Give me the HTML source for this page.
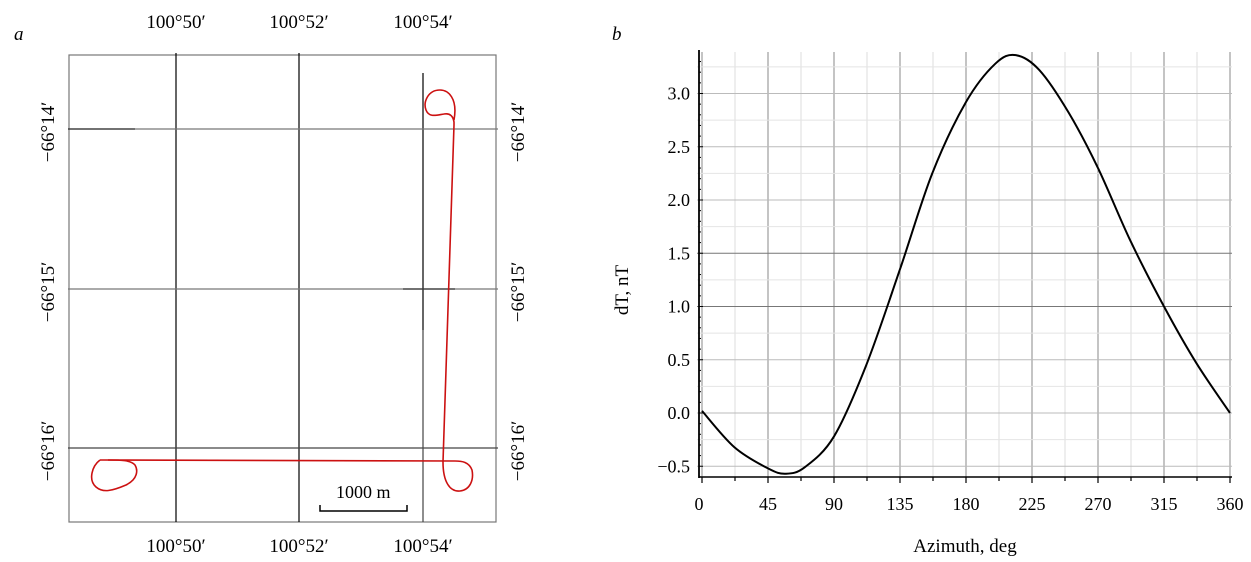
<!DOCTYPE html>
<html><head><meta charset="utf-8"><style>
html,body{margin:0;padding:0;background:#fff;}
svg{display:block;font-family:"Liberation Serif",serif;}
</style></head><body>
<svg id="s" width="1251" height="562" viewBox="0 0 1251 562" xmlns="http://www.w3.org/2000/svg">
<text x="14" y="40" font-size="19" font-style="italic">a</text>
<rect x="69" y="55" width="427" height="467" fill="none" stroke="#777" stroke-width="1.2"/>
<g stroke="#000" stroke-width="1.2">
<line x1="176" y1="53" x2="176" y2="522"/>
<line x1="299" y1="53" x2="299" y2="522"/>
<line x1="423" y1="73" x2="423" y2="330"/>
<line x1="423" y1="330" x2="423" y2="522" stroke="#444"/>
</g>
<g stroke="#777" stroke-width="1.2">
<line x1="68" y1="129" x2="498" y2="129"/>
<line x1="68" y1="289" x2="498" y2="289"/>
<line x1="68" y1="448" x2="498" y2="448" stroke="#444"/>
</g>
<g stroke="#333" stroke-width="1.2">
<line x1="68" y1="129" x2="135" y2="129"/>
<line x1="403" y1="289" x2="455" y2="289"/>
</g>
<g fill="none" stroke="#cc1111" stroke-width="1.6">
<path d="M454,120 C458,98 448,90 440,90 C428,90 423,102 426,110 C429,118 437,115 444,114 C450,113 453,116 454,122 L454,125 L443,462"/>
<path d="M443,462 C443,482 450,492 460,491 C470,490 474,480 472,470 C469,462 462,461 455,461 L100,460"/>
<path d="M100,460 C92,466 88,480 96,487 C103,493 112,491 126,485 C138,479 138,470 135,465 C131,460 120,460 108,460"/>
</g>
<text x="336" y="498" font-size="18">1000 m</text>
<path d="M320,505 L320,511 L407,511 L407,505" fill="none" stroke="#000" stroke-width="1.5"/>
<g font-size="19" text-anchor="middle">
<text x="176" y="28">100°50′</text>
<text x="299" y="28">100°52′</text>
<text x="423" y="28">100°54′</text>
<text x="176" y="552">100°50′</text>
<text x="299" y="552">100°52′</text>
<text x="423" y="552">100°54′</text>
<text transform="translate(54,132) rotate(-90)">−66°14′</text>
<text transform="translate(54,292) rotate(-90)">−66°15′</text>
<text transform="translate(54,451) rotate(-90)">−66°16′</text>
<text transform="translate(524,132) rotate(-90)">−66°14′</text>
<text transform="translate(524,292) rotate(-90)">−66°15′</text>
<text transform="translate(524,451) rotate(-90)">−66°16′</text>
</g>
<text x="612" y="40" font-size="19" font-style="italic">b</text>
<g id="grid"></g>
<g id="lbl" font-size="18"></g>
<text transform="translate(628,290) rotate(-90)" font-size="19" text-anchor="middle">dT, nT</text>
<text x="965" y="552" font-size="19" text-anchor="middle">Azimuth, deg</text>
<path id="curve" fill="none" stroke="#000" stroke-width="2"/>
</svg>
<script>
var NS="http://www.w3.org/2000/svg";
function X(a){return 702+a*(528/360);}
function Y(v){return 413-106.5*v;}
var g=document.getElementById('grid'),l=document.getElementById('lbl');
function ln(x1,y1,x2,y2,c,w){var e=document.createElementNS(NS,'line');e.setAttribute('x1',x1);e.setAttribute('y1',y1);e.setAttribute('x2',x2);e.setAttribute('y2',y2);e.setAttribute('stroke',c);e.setAttribute('stroke-width',w);g.appendChild(e);}
function tx(x,y,s,a){var e=document.createElementNS(NS,'text');e.setAttribute('x',x);e.setAttribute('y',y);e.setAttribute('text-anchor',a);e.textContent=s;l.appendChild(e);}
var yTop=52,yBot=477;
for(var a=0;a<=360;a+=22.5){var strong=(a%45===0);ln(X(a),yTop,X(a),yBot,strong?'#888':'#ddd',1);}
for(var v=-0.5;v<=3.3;v+=0.25){var y=Y(v);var strong=Math.abs(v*2-Math.round(v*2))<1e-6;ln(697,y,1232,y,strong?(Math.abs(v-1)<0.01||Math.abs(v-1.5)<0.01?'#777':'#bbb'):'#e4e4e4',1);}
ln(699,yTop-2,699,yBot+1,'#000',1.8);
ln(699,yBot,1232,yBot,'#000',1.5);
for(var a=0;a<=360;a+=22.5){ln(X(a),yBot,X(a),yBot+(a%45===0?6:4),'#000',1.2);}
for(var v=-0.6;v<=3.35;v+=0.1){ln(699,Y(v),(Math.abs(v*2-Math.round(v*2))<1e-6)?703:701,Y(v),'#000',1);}
var labs=['−0.5','0.0','0.5','1.0','1.5','2.0','2.5','3.0'];
for(var i=0;i<8;i++){tx(690,Y(-0.5+i*0.5)+6,labs[i],'end');}
for(var a=0;a<=360;a+=45){tx(X(a)-(a==0?3:0),510,String(a),'middle');}
var P=[[0,0.02],[22,-0.32],[45,-0.52],[57,-0.57],[70,-0.51],[90,-0.22],[112,0.45],[135,1.35],[157,2.25],[180,2.92],[200,3.28],[214,3.36],[230,3.22],[250,2.82],[270,2.3],[292,1.62],[315,1.0],[337,0.47],[360,0.0]];
var pts=P.map(function(p){return [X(p[0]),Y(p[1])];});
var d='M'+pts[0][0]+','+pts[0][1];
for(var i=0;i<pts.length-1;i++){var p0=pts[Math.max(0,i-1)],p1=pts[i],p2=pts[i+1],p3=pts[Math.min(pts.length-1,i+2)];
d+=' C'+(p1[0]+(p2[0]-p0[0])/6)+','+(p1[1]+(p2[1]-p0[1])/6)+' '+(p2[0]-(p3[0]-p1[0])/6)+','+(p2[1]-(p3[1]-p1[1])/6)+' '+p2[0]+','+p2[1];}
document.getElementById('curve').setAttribute('d',d);
</script>
</body></html>
